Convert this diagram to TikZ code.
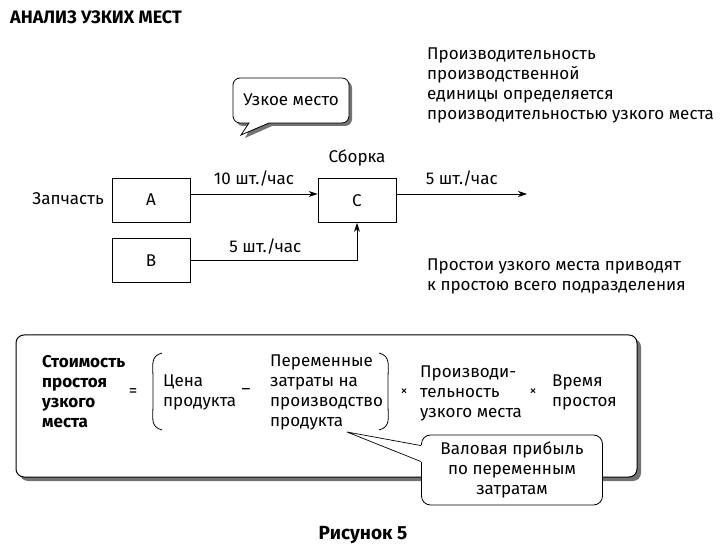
\documentclass[tikz,border=0pt]{standalone}
\usepackage{fontspec}
\setmainfont{Fira Sans}
\usetikzlibrary{arrows.meta}
\begin{document}
\begin{tikzpicture}[x=1pt,y=-1pt,
  txt/.style={inner sep=0pt, font=\fontsize{17}{19.7}\selectfont, align=left},
  btxt/.style={inner sep=0pt, font=\fontsize{17}{20}\selectfont\bfseries, align=left},
  blockbox/.style={draw, line width=0.9pt, minimum width=78pt, minimum height=44pt, inner sep=0pt, font=\fontsize{17}{19}\selectfont},
  flow/.style={line width=0.8pt, -{Stealth[length=9pt,width=6pt]}},
  shadowcol/.style={fill=black!55},
  times/.style={inner sep=0pt, font=\fontsize{14}{14}\selectfont},
]
\useasboundingbox (0,0) rectangle (723,553);

% title
\node[btxt, font=\fontsize{18}{20}\selectfont\bfseries, anchor=base west] (title) at (10,24) {АНАЛИЗ УЗКИХ МЕСТ};

% bubble
\fill[shadowcol] (236,81) [rounded corners=7pt] -- (236,126) [sharp corners] -- (252,126) -- (245,138) -- (272,126) [rounded corners=7pt] -- (352,126) -- (352,81) -- cycle;
\draw[fill=white, line width=0.8pt] (233,78) [rounded corners=7pt] -- (233,123) [sharp corners] -- (249,123) -- (241,135) -- (269,123) [rounded corners=7pt] -- (349,123) -- (349,78) -- cycle;
\node[txt] (bn) at (291,100) {Узкое место};

% right texts
\node[txt, anchor=north west] (t1) at (427,48) {Производительность\\производственной\\единицы определяется\\производительностью узкого места};
\node[txt, anchor=north west] (t2) at (427,259) {Простои узкого места приводят\\к простою всего подразделения};

% blocks
\node[blockbox] (A) at (151,200) {A};
\node[blockbox] (B) at (151,260.5) {B};
\node[blockbox] (C) at (357,200.5) {C};
\coordinate (out) at (527,194);
\node[txt, anchor=base east] (zap) at (104,205) {Запчасть};
\node[txt, anchor=base] (sb) at (357,163) {Сборка};

\draw[flow] ([yshift=6pt]A.east) -- ([yshift=6.5pt]C.west) node[midway, above=7pt, txt] (l1) {10 шт./час};
\draw[flow] ([yshift=6.5pt]C.east) -- (out) node[midway, above=7pt, txt] (l2) {5 шт./час};
\draw[flow] (B.east) -- (B.east -| C.south) node[pos=0.45, above=6pt, txt] (l3) {5 шт./час} -- (C.south);

% big box
\fill[shadowcol, rounded corners=8pt] (20,339) rectangle (641,481);
\draw[fill=white, line width=1pt, rounded corners=8pt] (16,335) rectangle (637,477);

\node[btxt, anchor=north west] (cost) at (42,355) {Стоимость\\простоя\\узкого\\места};
\node[txt] (eq) at (133,393) {=};
\draw[line width=0.8pt] (162,353) .. controls (150,356) and (153,366) .. (153,378) -- (153,405) .. controls (153,417) and (150,427) .. (162,430);
\node[txt, anchor=north west] (price) at (163,375) {Цена\\продукта};
\node[txt] (minus) at (246,392) {–};
\node[txt, anchor=north west] (var) at (270,355) {Переменные\\затраты на\\производство\\продукта};
\draw[line width=0.8pt] (379,353) .. controls (391,356) and (388,366) .. (388,378) -- (388,405) .. controls (388,417) and (391,427) .. (379,430);
\node[times] (x1) at (404,392) {×};
\node[txt, anchor=north west] (prod) at (420,366) {Производи-\\тельность\\узкого места};
\node[times] (x2) at (533,392) {×};
\node[txt, anchor=north west] (time) at (552,375) {Время\\простоя};

% callout
\node[draw, fill=white, line width=0.8pt, rounded corners=9pt, minimum width=181pt, minimum height=70pt, inner sep=0pt, txt, align=center] (gross) at (512,470) {Валовая прибыль\\по переменным\\затратам};
\fill[white] ([yshift=-10.5pt]gross.north west) ++(-1,0) rectangle ++(2,17);
\coordinate (tip) at (347,432);
\draw[line width=0.7pt] ([yshift=-11pt]gross.north west) -- (tip) -- ([yshift=-27pt]gross.north west);

% caption
\node[btxt, font=\fontsize{19}{20}\selectfont\bfseries, anchor=base] (cap) at (363,539) {Рисунок 5};
\end{tikzpicture}
\end{document}
